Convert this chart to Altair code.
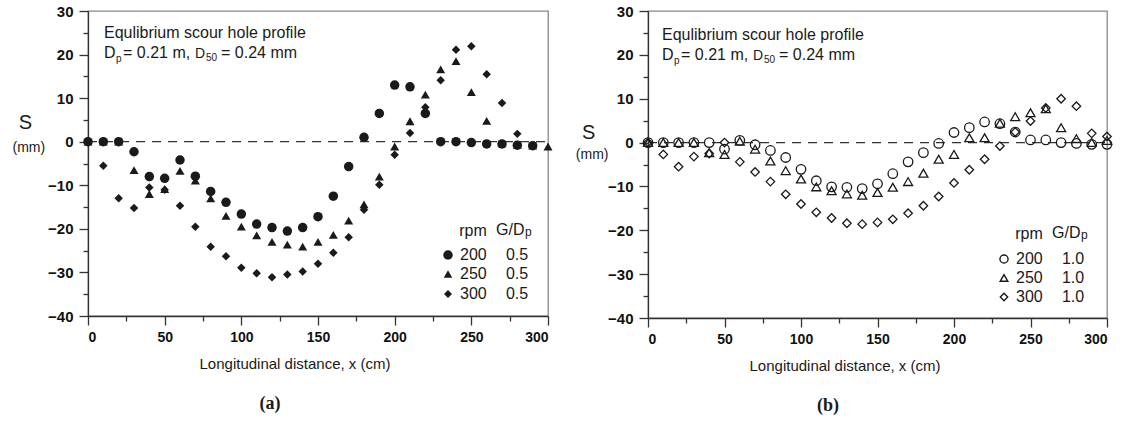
import altair as alt
import pandas as pd

# ---------------- data ----------------
rpm_labels = ["200", "250", "300"]
shape_names = ["circle", "triangle-up", "diamond"]

# panel (a): G/Dp = 0.5
x_a200 = list(range(0, 300, 10))          # 0..290
s_a200 = [0, 0, 0, -2.3, -8.0, -8.4, -4.2, -7.9, -11.4, -13.9, -16.6, -18.9, -19.7, -20.5, -19.7,
          -17.2, -12.5, -5.7, 1.0, 6.5, 13.0, 12.6, 6.5, 0, 0, -0.2, -0.5, -0.5, -0.8, -0.9]
x_a250 = list(range(0, 310, 10))          # 0..300
s_a250 = [0, 0, 0, -6.5, -12.0, -10.9, -6.7, -8.9, -13.0, -17.0, -19.5, -21.5, -23.0, -23.6, -24.1,
          -23.0, -21.4, -18.1, -14.4, -8.0, -1.1, 4.7, 10.8, 16.6, 18.5, 11.4, 4.8, -0.4, -0.7, -0.9, -1.1]
x_a300 = list(range(0, 290, 10))          # 0..280
s_a300 = [0, -5.5, -13.0, -15.2, -10.5, -11.0, -14.7, -19.5, -24.1, -26.3, -28.9, -30.2, -31.1, -30.5,
          -29.8, -28.0, -25.5, -21.9, -15.6, -9.9, -3.0, 2.0, 7.9, 14.1, 21.1, 21.9, 15.5, 8.9, 1.8]

# panel (b): G/Dp = 1.0
x_b = list(range(0, 310, 10))             # 0..300
s_b200 = [0, 0, 0, 0, 0, -1.5, 0.5, -0.5, -1.8, -3.4, -6.1, -8.7, -10.1, -10.2, -10.5, -9.4,
          -7.1, -4.4, -2.3, -0.2, 2.3, 3.4, 4.7, 4.3, 2.4, 0.6, 0.6, 0, -0.2, -0.4, -0.4]
s_b250 = [0, 0, 0, 0, -2.3, -2.7, 0.3, -1.5, -4.2, -6.4, -8.3, -10.1, -11.0, -11.7, -12.0, -11.4,
          -10.2, -8.9, -7.0, -3.8, -2.7, 1.1, 1.1, 4.4, 5.9, 6.8, 7.7, 3.4, 0.9, 0, 0.5]
s_b300 = [0, -2.7, -5.5, -3.2, -2.5, 0, -4.4, -6.7, -8.9, -11.8, -14.0, -15.9, -17.2, -18.4, -18.6,
          -18.2, -17.5, -16.1, -14.4, -12.3, -9.2, -6.2, -3.8, -0.8, 2.4, 4.9, 7.9, 10.0, 8.3, 2.1, 1.4]

ratio_a = "0.5"
ratio_b = "1.0"
title_line1 = "Equlibrium scour hole profile"
x_title = "Longitudinal distance, x (cm)"

x_ticks = list(range(0, 301, 25))
y_ticks = list(range(-40, 31, 5))

def frame(pairs):
    rows = []
    for rpm, xs, ss in pairs:
        for xv, sv in zip(xs, ss):
            rows.append({"x": xv, "s": sv, "rpm": rpm})
    return pd.DataFrame(rows)

df_a = frame([("200", x_a200, s_a200), ("250", x_a250, s_a250), ("300", x_a300, s_a300)])
df_b = frame([("200", x_b, s_b200), ("250", x_b, s_b250), ("300", x_b, s_b300)])

FONT = "Liberation Sans"
INK = "#1a1a1a"


def label(text, x, y, size, align="left", baseline="middle", font=FONT, weight="normal", color=INK):
    return alt.Chart(pd.DataFrame({"t": [text]})).mark_text(
        align=align, baseline=baseline, font=font, fontSize=size, fontWeight=weight, color=color
    ).encode(x=alt.value(x), y=alt.value(y), text="t:N")


def symbol(shape, x, y, filled, size):
    return alt.Chart(pd.DataFrame({"t": [shape]})).mark_point(
        filled=filled, color=INK, opacity=1, strokeWidth=1.4, size=size
    ).encode(x=alt.value(x), y=alt.value(y), shape=alt.value(shape))


def panel(df, filled, ratio, w, h, letter, leg, sizes, ann, xt, lt, ylab):
    xs = alt.Scale(domain=[0, 300], nice=False, zero=False)
    ys = alt.Scale(domain=[-40, 30], nice=False, zero=False)
    xaxis = alt.Axis(
        values=x_ticks, title=None, grid=False,
        labelExpr="datum.value % 50 === 0 ? datum.label : ''",
        tickSize={"condition": {"test": "datum.value % 50 === 0", "value": 9}, "value": 5},
        labelFontSize=14, labelFont=FONT, labelColor="#111", labelFontWeight="bold", labelPadding=5,
        domainColor="#333", tickColor="#333", domainWidth=1.3, tickWidth=1.3,
    )
    yaxis = alt.Axis(
        values=y_ticks, title=None, grid=False,
        labelExpr="datum.value % 10 === 0 ? datum.label : ''",
        tickSize={"condition": {"test": "datum.value % 10 === 0", "value": 9}, "value": 5},
        labelFontSize=15, labelFont=FONT, labelColor="#111", labelFontWeight="bold", labelPadding=6,
        domainColor="#333", tickColor="#333", domainWidth=1.3, tickWidth=1.3,
    )
    zero = alt.Chart(pd.DataFrame({"v": [0]})).mark_rule(
        color="#333", strokeDash=[9, 7], strokeWidth=1.2
    ).encode(
        y=alt.Y("v:Q", scale=ys, axis=yaxis),
        x=alt.datum(0, scale=xs, axis=xaxis), x2=alt.datum(300),
    )
    pts = alt.Chart(df).mark_point(filled=filled, color=INK, opacity=1, strokeWidth=1.3).encode(
        x=alt.X("x:Q", scale=xs, axis=xaxis),
        y=alt.Y("s:Q", scale=ys, axis=yaxis),
        shape=alt.Shape("rpm:N", scale=alt.Scale(domain=rpm_labels, range=shape_names), legend=None),
        size=alt.Size("rpm:O", scale=alt.Scale(domain=rpm_labels, range=sizes), legend=None),
    )
    layers = [zero, pts]
    # annotation text
    ax, ay = ann
    layers += [
        label(title_line1, ax, ay, 16),
        label("D", ax, ay + 20, 16),
        label("p", ax + 12, ay + 26, 10),
        label("= 0.21 m,", ax + 19, ay + 20, 16),
        label("D", ax + 91, ay + 21, 14),
        label("50", ax + 102, ay + 25, 10),
        label("= 0.24 mm", ax + 117, ay + 20, 16),
    ]
    # y title
    layers += [label("S", ylab[0], ylab[1], 20, align="center"),
               label("(mm)", ylab[2], ylab[3], 14, align="center")]
    # legend
    lx, ly, rows = leg
    layers += [
        label("rpm", lx + 25, ly, 16, align="center"),
        label("G/D", lx + 48, ly - 1, 16),
        label("p", lx + 77, ly + 1, 12),
    ]
    for i, r in enumerate(rpm_labels):
        layers += [
            symbol(shape_names[i], lx, ly + rows[i], filled, sizes[i]),
            label(r, lx + 12, ly + rows[i], 16),
            label(ratio, lx + 69, ly + rows[i], 16, align="center"),
        ]
    layers += [label(x_title, xt[0], xt[1], 15, align="center"),
               label(letter, lt[0], lt[1], 18, align="center", font="Liberation Serif", weight="bold")]
    return alt.layer(*layers).properties(width=w, height=h)


pa = panel(df_a, True, ratio_a, 460, 305, "(a)",
           (360, 220, [24, 43, 63]), [90, 72, 64], (16, 21.6),
           (207, 353), (182, 393), (-62.7, 112, -59.2, 136.5))
pb = panel(df_b, False, ratio_b, 459, 307, "(b)",
           (356, 223, [25, 44, 63]), [66, 58, 54], (14, 23.5),
           (197, 355), (180, 395), (-59.3, 121.5, -55.8, 143.5))

chart = alt.hconcat(pa, pb, spacing=100, bounds="flush").configure_view(
    stroke="#888", strokeWidth=1.3
).properties(padding={"left": 11, "top": 3, "right": 5, "bottom": 5})

chart.save("out.html", embed_options={"renderer": "svg", "actions": False})
